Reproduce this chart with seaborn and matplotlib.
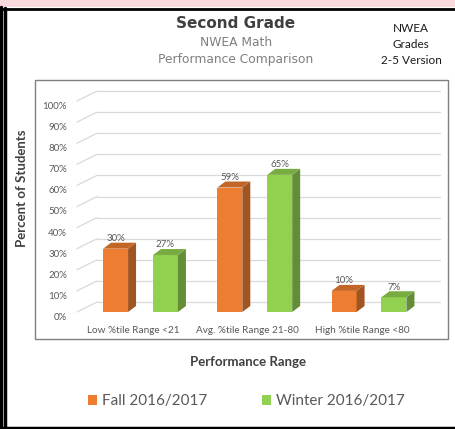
import numpy as np
import pandas as pd
import matplotlib.pyplot as plt
import matplotlib.transforms as mtransforms
from matplotlib.patches import Rectangle, Polygon
from matplotlib.lines import Line2D
import seaborn as sns

# chart data
ranges = ['Low %tile Range <21', 'Avg. %tile Range 21-80', 'High %tile Range <80']
terms = ['Fall 2016/2017', 'Winter 2016/2017']
fall_pct = [0.30, 0.59, 0.10]
winter_pct = [0.27, 0.65, 0.07]
y_ticks = [0.0, 0.1, 0.2, 0.3, 0.4, 0.5, 0.6, 0.7, 0.8, 0.9, 1.0]
colors = ['#ED7D31', '#92D050']

df = pd.DataFrame({
    'Range': ranges * 2,
    'Term': [terms[0]] * 3 + [terms[1]] * 3,
    'Pct': fall_pct + winter_pct,
})

sns.set_style('white')
plt.rcParams['font.family'] = ['Lato', 'DejaVu Sans']

W, H = 456, 429
fig = plt.figure(figsize=(W / 100, H / 100), dpi=100)
fig.patch.set_facecolor('white')

# pink strip + black frame
fig.add_artist(Rectangle((0, 1 - 7 / H), 1, 7 / H, transform=fig.transFigure,
                         facecolor='#F9D9DC', edgecolor='none'))
fig.add_artist(Line2D([0, 1], [1 - 8.5 / H] * 2, transform=fig.transFigure, color='black', lw=2))
fig.add_artist(Line2D([1.5 / W] * 2, [0, 1 - 7 / H], transform=fig.transFigure, color='black', lw=2.5))
fig.add_artist(Line2D([5.5 / W] * 2, [0, 1 - 8 / H], transform=fig.transFigure, color='black', lw=2.5))
fig.add_artist(Line2D([0, 1], [1.5 / H] * 2, transform=fig.transFigure, color='black', lw=2.5))
# inner chart box
fig.add_artist(Rectangle((35 / W, 1 - 339 / H), 413 / W, 259 / H, transform=fig.transFigure,
                         facecolor='none', edgecolor='#7F7F7F', lw=1))

# plot area (front floor at y=312px, 100% at y=101px)
ax_h = 211
ax = fig.add_axes([83.4 / W, (H - 312) / H, 342.75 / W, ax_h / H])
sns.barplot(data=df, x='Range', y='Pct', hue='Term', palette=colors, saturation=1,
            width=0.873, gap=0.5, linewidth=0, ax=ax, zorder=2)
ax.set_xlim(-0.5, 2.5)
ax.set_ylim(0, 1)
for s in ax.spines.values():
    s.set_visible(False)
ax.set_yticks([])
ax.set_xlabel('')
ax.set_ylabel('')
ax.tick_params(axis='x', length=0, pad=10, labelsize=7.2, labelcolor='#595959')

# back wall gridlines with diagonal floor lines
dy = 10 / ax_h
yt = ax.get_yaxis_transform()
for v in y_ticks:
    ax.plot([0.0398, 1.04], [v + dy, v + dy], transform=yt, color='#D9D9D9', lw=0.9,
            zorder=0.5, clip_on=False)
    ax.plot([-0.0187, 0.0398], [v, v + dy], transform=yt, color='#D9D9D9', lw=0.9,
            zorder=0.5, clip_on=False)
    ax.text(-0.048, v - 0.026, f'{v:.0%}', transform=yt, ha='right', va='center',
            fontsize=7, color='#595959')

# fake 3D faces on bars
ddx = 8 / 114.25
ddy = 6 / ax_h
for cont in ax.containers:
    for bar in cont:
        x0 = bar.get_x()
        x1 = x0 + bar.get_width()
        h = bar.get_height()
        fc = np.array(bar.get_facecolor()[:3])
        ax.add_patch(Polygon([(x1, 0), (x1 + ddx, ddy), (x1 + ddx, h + ddy), (x1, h)],
                             closed=True, facecolor=fc * 0.68, edgecolor='none', zorder=2))
        ax.add_patch(Polygon([(x0, h), (x0 + ddx, h + ddy), (x1 + ddx, h + ddy), (x1, h)],
                             closed=True, facecolor=fc * 0.82, edgecolor='none', zorder=2))
    ax.bar_label(cont, labels=[f'{b.get_height():.0%}' for b in cont], padding=4,
                 fontsize=7, color='#595959')

# legend below the chart
sns.move_legend(ax, loc='center', bbox_to_anchor=(0.54, 0.065), bbox_transform=fig.transFigure,
                ncol=2, frameon=False, title=None, fontsize=11, handlelength=0.6,
                handleheight=0.6, handletextpad=0.3, columnspacing=3.6, labelcolor='#595959')

# titles and axis labels
fig.text(236 / W, 1 - 23 / H, 'Second Grade', ha='center', va='center', fontsize=11,
         fontweight='bold', color='#404040', family='DejaVu Sans')
fig.text(236 / W, 1 - 42 / H, 'NWEA Math', ha='center', va='center', fontsize=8.8,
         color='#7F7F7F', family='DejaVu Sans')
fig.text(236 / W, 1 - 60 / H, 'Performance Comparison', ha='center', va='center', fontsize=8.8,
         color='#7F7F7F', family='DejaVu Sans')
for txt, yy in [('NWEA', 29), ('Grades', 45), ('2-5 Version', 61)]:
    fig.text(411 / W, 1 - yy / H, txt, ha='center', va='center', fontsize=8.5, color='#1A1A1A')
fig.text(22 / W, 1 - 188 / H, 'Percent of Students', rotation=90, ha='center', va='center',
         fontsize=9.5, fontweight='bold', color='#404040')
fig.text(248 / W, 1 - 362 / H, 'Performance Range', ha='center', va='center',
         fontsize=9.5, fontweight='bold', color='#404040')

# shift category labels a bit left, like the 3D floor
for lbl in ax.get_xticklabels():
    lbl.set_transform(lbl.get_transform() + mtransforms.ScaledTranslation(-7 / 100, 0, fig.dpi_scale_trans))

fig.savefig('out.png', dpi=100, facecolor=fig.get_facecolor())
